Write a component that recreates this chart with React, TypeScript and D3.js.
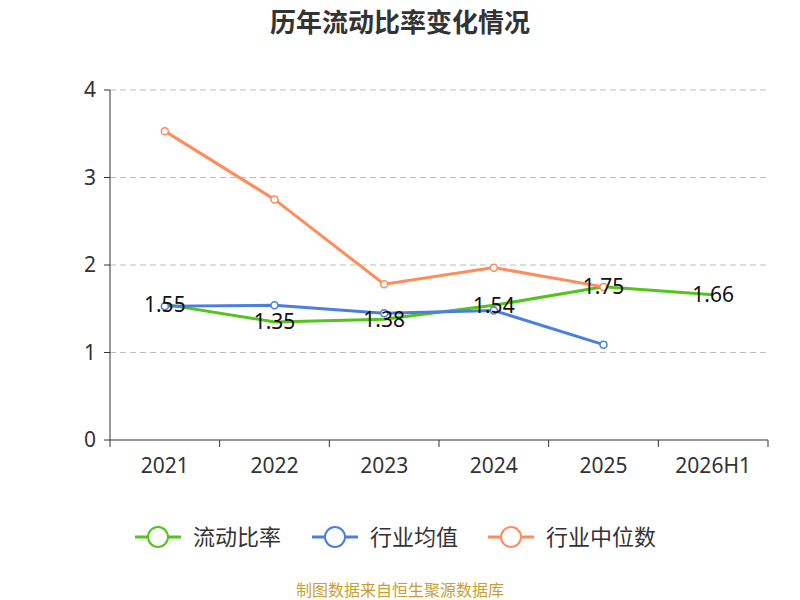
import React from "react";
import * as d3 from "d3";

const categories = ["2021", "2022", "2023", "2024", "2025", "2026H1"];
const currentRatio = [1.55, 1.35, 1.38, 1.54, 1.75, 1.66];
const industryMean = [1.53, 1.54, 1.45, 1.48, 1.09];
const industryMedian = [3.53, 2.75, 1.78, 1.97, 1.75];
const yTicks = [0, 1, 2, 3, 4];

const font = "'Noto Sans', 'Noto Sans CJK SC', sans-serif";

export default function App() {
  const width = 800;
  const height = 600;
  const left = 110, right = 768, top = 90, bottom = 440;
  const x = d3.scaleBand().domain(categories).range([left, right]);
  const y = d3.scaleLinear().domain([0, 4]).range([bottom, top]);
  const cx = (i: number) => x(categories[i])! + x.bandwidth() / 2;
  const line = d3.line<number>().x((_, i) => cx(i)).y((d) => y(d));

  const series = [
    { name: "流动比率", data: currentRatio, color: "#52c41a", markers: false },
    { name: "行业均值", data: industryMean, color: "#4a7fe0", markers: true },
    { name: "行业中位数", data: industryMedian, color: "#ff8c5a", markers: true },
  ];
  const legendX = [135, 312, 488];

  return (
    <svg width={width} height={height} style={{ position: "absolute", left: 0, top: 0 }} fontFamily={font}>
      <rect width={width} height={height} fill="#fff" />
      <text x={400} y={32} textAnchor="middle" fontSize={26} fontWeight="bold" fill="#333">
        历年流动比率变化情况
      </text>
      {yTicks.map((t) => (
        <g key={t}>
          {t > 0 && (
            <line x1={left} x2={right} y1={y(t)} y2={y(t)} stroke="#bbb" strokeDasharray="6,4" />
          )}
          <line x1={left - 6} x2={left} y1={y(t)} y2={y(t)} stroke="#333" />
          <text x={left - 14} y={y(t)} dy="0.35em" textAnchor="end" fontSize={21} fill="#333">
            {t}
          </text>
        </g>
      ))}
      <line x1={left} x2={left} y1={top} y2={bottom} stroke="#333" />
      <line x1={left} x2={right} y1={bottom} y2={bottom} stroke="#333" />
      {categories.map((c, i) => (
        <g key={c}>
          <line x1={x(c)!} x2={x(c)!} y1={bottom} y2={bottom + 7} stroke="#333" />
          <text x={cx(i)} y={473} textAnchor="middle" fontSize={21} fill="#333">
            {c}
          </text>
        </g>
      ))}
      <line x1={right} x2={right} y1={bottom} y2={bottom + 7} stroke="#333" />
      {series.map((s) => (
        <g key={s.name}>
          <path d={line(s.data)!} fill="none" stroke={s.color} strokeWidth={3} />
          {s.markers &&
            s.data.map((d, i) => (
              <circle key={i} cx={cx(i)} cy={y(d)} r={3.5} fill="#fff" stroke={s.color} strokeWidth={1.5} />
            ))}
        </g>
      ))}
      {currentRatio.map((d, i) => (
        <text key={i} x={cx(i)} y={y(d)} dy="0.35em" textAnchor="middle" fontSize={21} fill="#111">
          {d.toFixed(2)}
        </text>
      ))}
      {series.map((s, i) => (
        <g key={s.name} transform={`translate(${legendX[i]},537)`}>
          <line x1={0} x2={46} y1={0} y2={0} stroke={s.color} strokeWidth={3} />
          <circle cx={23} cy={0} r={10} fill="#fff" stroke={s.color} strokeWidth={2} />
          <text x={58} y={0} dy="0.35em" fontSize={22} fill="#333">
            {s.name}
          </text>
        </g>
      ))}
      <text x={400} y={596} textAnchor="middle" fontSize={16} fill="#c8a032">
        制图数据来自恒生聚源数据库
      </text>
    </svg>
  );
}
